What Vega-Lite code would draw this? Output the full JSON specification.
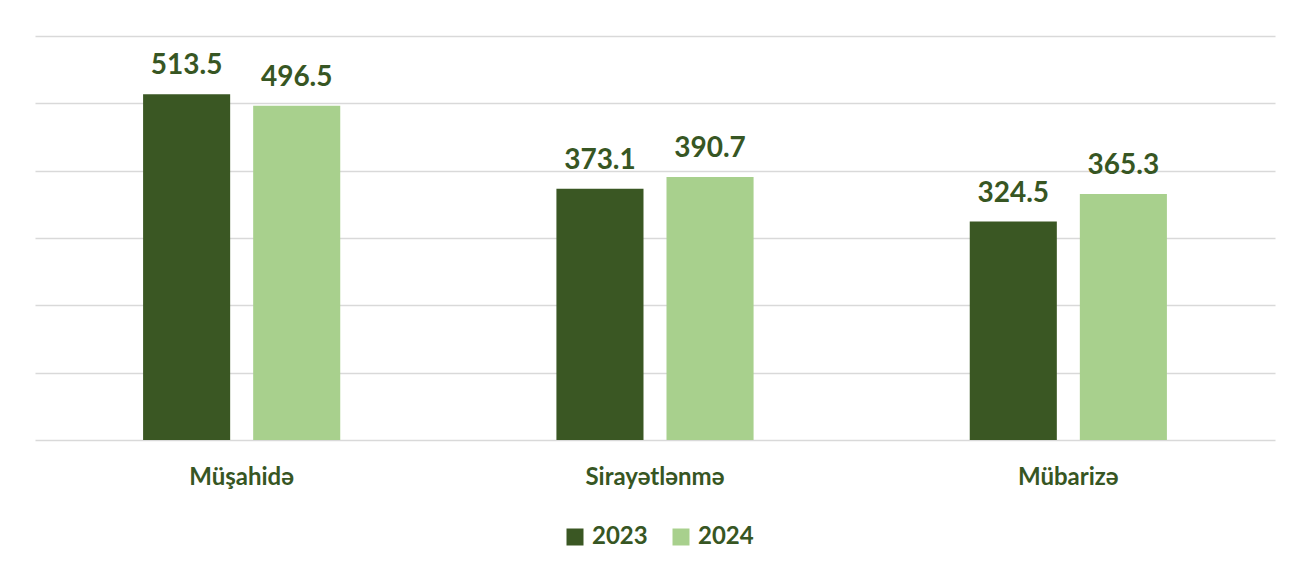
{
  "$schema": "https://vega.github.io/schema/vega-lite/v6.json",
  "autosize": {"type": "none"},
  "padding": {"left": 35, "top": 36, "right": 31, "bottom": 132},
  "width": 1240,
  "height": 404,
  "background": "white",
  "config": {"view": {"stroke": null}, "font": "Lato"},
  "data": {
    "values": [
      {"category": "Müşahidə", "year": "2023", "value": 513.5},
      {"category": "Müşahidə", "year": "2024", "value": 496.5},
      {"category": "Sirayətlənmə", "year": "2023", "value": 373.1},
      {"category": "Sirayətlənmə", "year": "2024", "value": 390.7},
      {"category": "Mübarizə", "year": "2023", "value": 324.5},
      {"category": "Mübarizə", "year": "2024", "value": 365.3}
    ]
  },
  "encoding": {
    "x": {
      "field": "category", "type": "nominal", "sort": null, "title": null,
      "scale": {"paddingInner": 0.523, "paddingOuter": 0.2615},
      "axis": {"domain": false, "ticks": false, "labelAngle": 0, "labelFont": "Lato", "labelFontSize": 24, "labelFontWeight": "bold", "labelColor": "#375623", "labelPadding": 25}
    },
    "xOffset": {
      "field": "year", "type": "nominal",
      "scale": {"paddingInner": 0.209, "paddingOuter": 0}
    },
    "y": {
      "field": "value", "type": "quantitative", "title": null,
      "scale": {"domain": [0, 600], "nice": false},
      "axis": {"values": [0, 100, 200, 300, 400, 500, 600], "grid": true, "gridColor": "#d9d9d9", "gridWidth": 1.5, "domain": false, "ticks": false, "labels": false}
    }
  },
  "layer": [
    {
      "mark": {"type": "bar"},
      "encoding": {
        "color": {
          "field": "year", "type": "nominal", "title": null,
          "scale": {"domain": ["2023", "2024"], "range": ["#3a5723", "#a8d08d"]},
          "legend": {
            "orient": "none", "direction": "horizontal", "legendX": 528, "legendY": 489,
            "symbolType": "square", "symbolSize": 289, "symbolStrokeWidth": 0,
            "labelFont": "Lato", "labelFontSize": 24, "labelFontWeight": "bold", "labelColor": "#375623",
            "labelOffset": 5, "columnPadding": 21
          }
        }
      }
    },
    {
      "mark": {"type": "text", "baseline": "bottom", "dy": -14, "font": "Lato", "fontSize": 28, "fontWeight": "bold", "color": "#375623"},
      "encoding": {
        "text": {"field": "value", "type": "quantitative", "format": ".1f"}
      }
    }
  ]
}
